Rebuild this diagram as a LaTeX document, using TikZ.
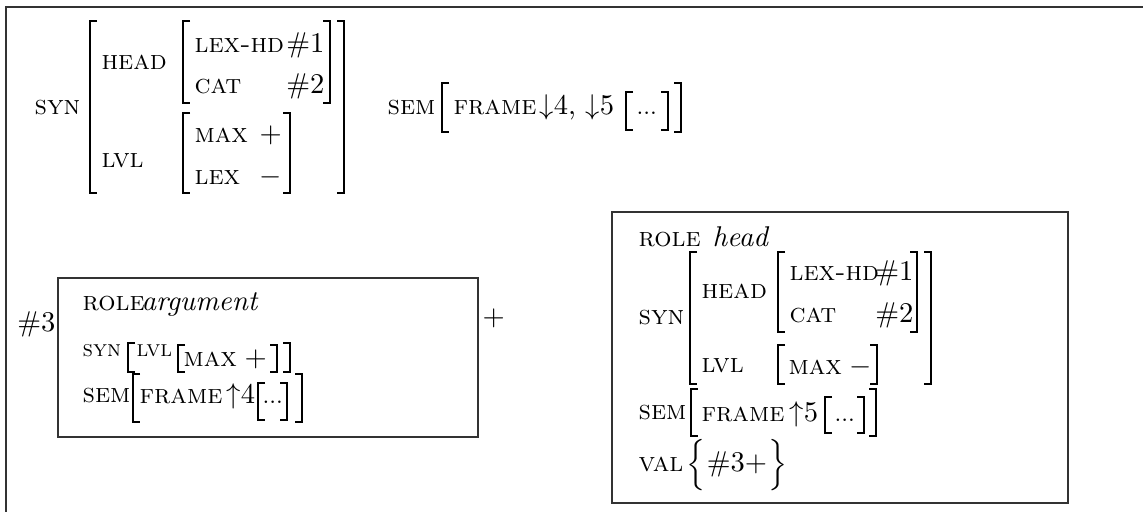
\documentclass[tikz,border=0pt]{standalone}
\usepackage{amsmath,amssymb}
\usepackage{fontspec}

\begin{document}
\begin{tikzpicture}[x=0.35pt, y=-0.35pt,
    feat/.style={anchor=base west, inner sep=0pt, font=\fontsize{9.5}{11}\selectfont\scshape},
    featsm/.style={feat, font=\fontsize{8}{10}\selectfont\scshape},
    val/.style={anchor=base west, inner sep=0pt, font=\fontsize{10}{12}\selectfont},
    dotsv/.style={val, font=\fontsize{8}{10}\selectfont},
    brk/.style={line width=0.45pt}]

        % Page size (pixels of the reference, y downwards)
        \useasboundingbox (0,0) rectangle (1143,512);

        % Outer frame (runs off the right and bottom edge)
        \draw[line width=0.7pt, black!80] (6,512) -- (6,7) -- (1143,7);

        % ---------- Top AVM ----------
        \node[feat] (syn) at (34,115) {syn};
        \draw[brk] (97,21) -- (90,21) -- (90,193) -- (97,193);
        \draw[brk] (337,21) -- (344,21) -- (344,193) -- (337,193);

        \node[feat] (head) at (101,70) {head};
        \draw[brk] (190,21) -- (183,21) -- (183,103) -- (190,103);
        \draw[brk] (323,21) -- (330,21) -- (330,103) -- (323,103);
        \node[feat] (lexhd) at (194,53) {lex-hd};
        \node[val, anchor=base east] (one) at (325,53) {\#1};
        \node[feat] (cat) at (194,94) {cat};
        \node[val, anchor=base east] (two) at (325,94) {\#2};

        \node[feat] (lvl) at (101,168) {lvl};
        \draw[brk] (190,113) -- (183,113) -- (183,193) -- (190,193);
        \draw[brk] (283,113) -- (290,113) -- (290,193) -- (283,193);
        \node[feat] (max) at (194,143) {max};
        \node[val] (maxv) at (259,143) {$+$};
        \node[feat] (lex) at (194,185) {lex};
        \node[val] (lexv) at (259,185) {$-$};

        \node[feat] (sem) at (387,115) {sem};
        \draw[brk] (449,83) -- (442,83) -- (442,132) -- (449,132);
        \draw[brk] (674,83) -- (681,83) -- (681,132) -- (674,132);
        \node[feat] (frame) at (453,115) {frame};
        \node[val] (framev) at (539,115) {$\downarrow$4, $\downarrow$5};
        \draw[brk] (633,92) -- (626,92) -- (626,130) -- (633,130);
        \draw[brk] (661,92) -- (668,92) -- (668,130) -- (661,130);
        \node[dotsv] (dots) at (636,115) {...};

        % ---------- Argument box ----------
        \draw[line width=0.5pt, black!80] (58,278) rectangle (478,437);
        \node[val, anchor=base east] (arg) at (56,332) {\#3};
        \node[feat] (argrole) at (82,311) {role};
        \node[val] (argrolev) at (141,311) {\itshape argument};

        \node[featsm] (argsyn) at (82,357) {syn};
        \draw[brk] (135,343) -- (128,343) -- (128,372) -- (135,372);
        \draw[brk] (283,343) -- (290,343) -- (290,372) -- (283,372);
        \node[featsm] (arglvl) at (136,357) {lvl};
        \draw[brk] (185,345) -- (178,345) -- (178,372) -- (185,372);
        \draw[brk] (270,345) -- (277,345) -- (277,372) -- (270,372);
        \node[feat] (argmax) at (183,367) {max};
        \node[val] (argmaxv) at (244,367) {$+$};

        \node[feat] (argsem) at (82,403) {sem};
        \draw[brk] (140,374) -- (133,374) -- (133,422) -- (140,422);
        \draw[brk] (295,374) -- (302,374) -- (302,422) -- (295,422);
        \node[feat] (argframe) at (139,404) {frame};
        \node[val] (argframev) at (226,404) {$\uparrow$4};
        \draw[brk] (265,383) -- (258,383) -- (258,420) -- (265,420);
        \draw[brk] (280,383) -- (287,383) -- (287,420) -- (280,420);
        \node[dotsv] (argdots) at (262,404) {...};

        % Plus between the two boxes
        \node[val] (plus) at (482,326) {$+$};

        % ---------- Head box ----------
        \draw[line width=0.5pt, black!80] (612,212) rectangle (1068,503);
        \node[feat] (hdrole) at (638,247) {role};
        \node[val] (hdrolev) at (712,247) {\itshape head};

        \node[feat] (hdsyn) at (638,325) {syn};
        \draw[brk] (697,252) -- (690,252) -- (690,384) -- (697,384);
        \draw[brk] (924,252) -- (931,252) -- (931,384) -- (924,384);
        \node[feat] (hdhead) at (701,299) {head};
        \draw[brk] (785,252) -- (778,252) -- (778,332) -- (785,332);
        \draw[brk] (910,252) -- (917,252) -- (917,332) -- (910,332);
        \node[feat] (hdlexhd) at (789,281) {lex-hd};
        \node[val, anchor=base east] (hdone) at (914,281) {\#1};
        \node[feat] (hdcat) at (789,323) {cat};
        \node[val, anchor=base east] (hdtwo) at (914,323) {\#2};
        \node[feat] (hdlvl) at (701,373) {lvl};
        \draw[brk] (785,345) -- (778,345) -- (778,384) -- (785,384);
        \draw[brk] (870,345) -- (877,345) -- (877,384) -- (870,384);
        \node[feat] (hdmax) at (788,375) {max};
        \node[val] (hdmaxv) at (849,375) {$-$};

        \node[feat] (hdsem) at (638,420) {sem};
        \draw[brk] (698,389) -- (691,389) -- (691,436) -- (698,436);
        \draw[brk] (869,389) -- (876,389) -- (876,436) -- (869,436);
        \node[feat] (hdframe) at (701,422) {frame};
        \node[val] (hdframev) at (789,422) {$\uparrow$5};
        \draw[brk] (832,397) -- (825,397) -- (825,433) -- (832,433);
        \draw[brk] (857,397) -- (864,397) -- (864,433) -- (857,433);
        \node[dotsv] (hddots) at (834,422) {...};

        \node[feat] (hdval) at (638,472) {val};
        \node[val] (lbrace) at (686,472) {$\Big\{$};
        \node[val] (hdvalv) at (lbrace.base east) {\#3$+$};
        \node[val] (rbrace) at (hdvalv.base east) {$\Big\}$};

    \end{tikzpicture}
\end{document}
